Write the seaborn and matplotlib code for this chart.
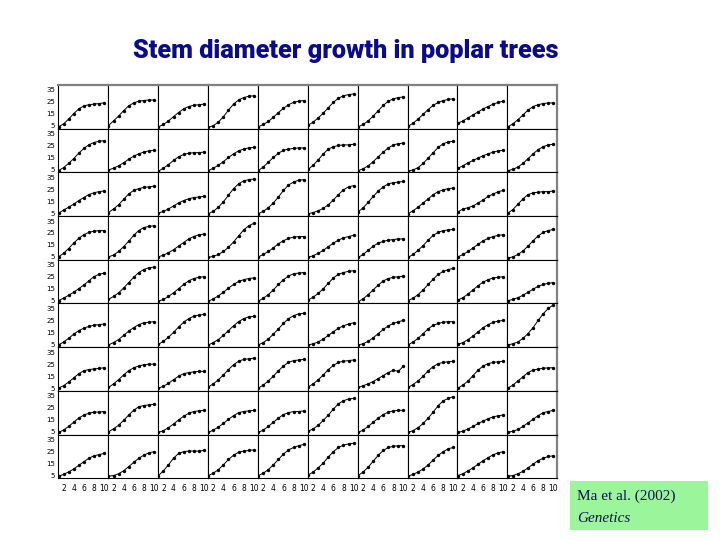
import matplotlib
matplotlib.use("Agg")
import numpy as np
import pandas as pd
import matplotlib.pyplot as plt
import seaborn as sns

# ------------------------------------------------------------
# Stem diameter (cm) at years 1..10, one list per tree,
# one block per row of the panel grid
# ------------------------------------------------------------
years = [1, 2, 3, 4, 5, 6, 7, 8, 9, 10]

row1 = [
    [4, 6.5, 10.5, 15, 19, 21.5, 22.5, 23, 23.5, 24],
    [5, 9, 13, 17.5, 21.5, 24, 25.5, 26, 26.5, 26.5],
    [4, 6, 9, 12.5, 16, 19, 21, 22, 22.5, 23],
    [3.5, 5, 8, 12.5, 18, 23, 26.5, 28.5, 29.5, 30],
    [4, 6, 8.5, 12, 16, 19.5, 22.5, 24.5, 25.5, 26],
    [5.5, 8, 11.5, 15.5, 20, 24.5, 28, 30, 31, 31.5],
    [4, 6, 9, 13, 17.5, 22, 25.5, 27.5, 28.5, 29],
    [4.5, 7, 10.5, 14.5, 18.5, 22, 24.5, 26, 27, 27.5],
    [7, 9, 11.5, 14, 16.5, 19, 21, 23, 24.5, 25.5],
    [4, 6.5, 10, 14, 18, 21, 22.5, 23.5, 24, 24],
]
row2 = [
    [4, 6.5, 10, 14, 18.5, 22.5, 25.5, 27.5, 28.5, 29],
    [4.5, 6, 8, 10.5, 13.5, 16, 18, 19.5, 20.5, 21],
    [3.5, 6, 9, 12.5, 15.5, 17.5, 18.5, 19, 19, 19.5],
    [4, 6, 8.5, 11.5, 15, 18, 20.5, 22, 23, 23.5],
    [4, 7, 11, 15, 18.5, 21, 22, 22.5, 23, 23],
    [5, 8.5, 13, 18, 22, 24, 25, 25.5, 25.5, 26],
    [4, 5.5, 8, 11.5, 15.5, 19.5, 23, 25.5, 26.5, 27],
    [3.5, 4.5, 6.5, 10, 14.5, 19, 23.5, 26.5, 28, 28.5],
    [6, 8, 10.5, 12.5, 14.5, 16.5, 18, 19.5, 20.5, 21],
    [4, 5, 7, 10, 14, 18, 21.5, 24, 25.5, 26],
]
row3 = [
    [5, 7.5, 10, 12.5, 15.5, 18, 20.5, 22, 23, 23.5],
    [5.5, 8.5, 12, 16.5, 21, 24, 25.5, 26.5, 27, 27.5],
    [5, 6.5, 8.5, 11, 13.5, 15.5, 17, 18, 18.5, 19],
    [4.5, 6.5, 10, 14.5, 20, 25.5, 29.5, 32, 33, 33.5],
    [4.5, 6.5, 9.5, 13.5, 18.5, 24, 28.5, 31, 32.5, 33],
    [4.5, 5.5, 7, 9, 12, 16, 20.5, 24.5, 27, 28],
    [6, 9.5, 14, 19, 23.5, 27, 29.5, 30.5, 31, 31.5],
    [4.5, 7, 10, 13.5, 17, 20.5, 23, 24.5, 25.5, 26],
    [6, 8.5, 9.5, 11, 13.5, 16, 19, 21, 23, 24],
    [5, 8, 12.5, 17, 20.5, 22, 22.5, 23, 23, 23.5],
]
row4 = [
    [5, 8, 12, 16.5, 20.5, 23.5, 25.5, 26.5, 27, 27],
    [5, 6.5, 9.5, 13.5, 18, 23, 27, 29.5, 30.5, 31],
    [5, 6.5, 8.5, 11, 14, 17, 20, 22, 23.5, 24],
    [4.5, 5.5, 7, 9.5, 13, 17.5, 22.5, 27.5, 31, 33],
    [5, 7, 9.5, 12.5, 16, 18.5, 20.5, 21.5, 22, 22],
    [4.5, 6, 8, 10.5, 13.5, 16.5, 19, 21, 22, 23],
    [4.5, 7, 10.5, 14, 16.5, 18, 19, 19.5, 20, 20],
    [4.5, 7, 10.5, 14.5, 19, 23, 25.5, 27, 27.5, 28],
    [5, 7, 9.5, 12.5, 15.5, 18.5, 20.5, 22, 23, 23.5],
    [4, 5, 7, 10, 14, 18.5, 22.5, 25.5, 27, 28],
]
row5 = [
    [5, 7, 9.5, 12, 15, 18, 21.5, 25, 27, 28],
    [6, 8.5, 11.5, 15.5, 20, 24.5, 28.5, 31, 32.5, 33],
    [4.5, 6, 8.5, 11.5, 15, 18.5, 21.5, 23.5, 24.5, 25],
    [4.5, 6.5, 9, 12, 15.5, 18.5, 21, 22.5, 23.5, 24],
    [4.5, 7, 10, 14, 18.5, 22.5, 25.5, 27.5, 28, 28.5],
    [5.5, 8, 11, 15, 19.5, 24, 27, 28.5, 29.5, 30],
    [4, 6.5, 10, 14, 18, 21.5, 23.5, 24.5, 25, 25.5],
    [5, 7, 10, 14, 18.5, 23, 27, 29.5, 31, 32],
    [5.5, 7.5, 10.5, 14, 17.5, 20.5, 22.5, 24, 24.5, 25],
    [5, 6, 7.5, 9.5, 12, 14.5, 17, 18.5, 19.5, 20],
]
row6 = [
    [4.5, 7, 10, 13.5, 16.5, 18.5, 20, 21, 21.5, 22],
    [4.5, 6.5, 9, 12.5, 16, 19, 21.5, 23, 23.5, 24],
    [5, 7.5, 11, 15, 19.5, 23.5, 26.5, 28.5, 29.5, 30],
    [4.5, 6.5, 9, 12.5, 16.5, 20.5, 24, 26.5, 28, 28.5],
    [4.5, 6.5, 9.5, 13.5, 18, 22.5, 26.5, 29, 30.5, 31],
    [4.5, 5.5, 7, 9.5, 12.5, 15.5, 18.5, 20.5, 22, 23],
    [4.5, 5.5, 7.5, 10.5, 14, 17.5, 20.5, 22.5, 24, 25],
    [4.5, 7, 10, 14, 18, 21, 22.5, 23.5, 24, 24],
    [5, 6.5, 9, 12, 15.5, 19, 21.5, 23.5, 24.5, 25],
    [4.5, 5.5, 7, 10, 14, 19, 25, 30.5, 35, 38],
]
row7 = [
    [5, 7, 10, 13.5, 17, 19.5, 20.5, 21, 21.5, 22],
    [5.5, 8.5, 12, 16, 19.5, 22, 23.5, 24.5, 25, 25],
    [5, 6.5, 9, 12, 15, 17, 18, 18.5, 19, 19],
    [6, 8.5, 12, 16, 20.5, 24.5, 27.5, 29, 29.5, 30],
    [5, 7.5, 11, 15, 19.5, 23.5, 26.5, 28, 28.5, 29],
    [6, 8.5, 12, 16, 20.5, 24, 26.5, 27.5, 28, 28.5],
    [5.5, 7, 8.5, 10.5, 13, 15.5, 18, 20, 19, 23.5],
    [5.5, 8, 11, 15, 19.5, 23, 25.5, 26.5, 27, 27.5],
    [5, 7.5, 11, 15.5, 20, 23.5, 25.5, 26.5, 27, 27.5],
    [5, 7.5, 11, 14.5, 18, 20, 21, 21.5, 22, 22],
]
row8 = [
    [4.5, 6.5, 9.5, 13, 16.5, 19, 20.5, 21.5, 21.5, 22],
    [5, 7.5, 10.5, 14.5, 19, 23, 26, 27, 27.5, 28],
    [4.5, 6, 8.5, 11.5, 15, 18, 20.5, 22, 22.5, 23],
    [4.5, 6.5, 9, 12, 15.5, 18.5, 21, 22, 22.5, 23],
    [4.5, 6.5, 9.5, 13, 16.5, 19.5, 21, 22, 22, 22.5],
    [5.5, 7.5, 10.5, 14.5, 19, 24, 28.5, 31, 32.5, 33],
    [4.5, 6.5, 9.5, 13, 16.5, 19.5, 21.5, 22.5, 23, 23],
    [4.5, 6, 8.5, 12, 16.5, 21.5, 27, 31, 33, 34.5],
    [4.5, 5.5, 7.5, 9.5, 12, 14, 16, 17.5, 18.5, 19],
    [4.5, 5.5, 7, 9.5, 12.5, 15.5, 18.5, 21, 22, 23],
]
row9 = [
    [4.5, 6, 8, 10.5, 13.5, 16.5, 19.5, 21.5, 22.5, 23.5],
    [4.5, 5, 6.5, 9, 12.5, 16, 19.5, 22, 24, 25],
    [5, 9, 14, 19.5, 23.5, 25, 25.5, 25.5, 25.5, 26],
    [5, 7, 10, 14, 18.5, 22, 24.5, 25.5, 26, 26.5],
    [5, 7, 10, 14, 18.5, 23, 26.5, 28.5, 30, 31],
    [5.5, 8, 11.5, 15.5, 20.5, 25, 28.5, 30.5, 31.5, 32],
    [5, 8, 12, 17, 22, 26, 28.5, 29.5, 30, 30],
    [4.5, 6, 8, 10.5, 14, 18, 22, 25, 27.5, 28.5],
    [5, 6.5, 9, 11.5, 14.5, 17.5, 20, 22.5, 24, 25],
    [4.5, 5, 6.5, 8.5, 11.5, 14.5, 17.5, 19.5, 21, 21.5],
]

rows = [row1, row2, row3, row4, row5, row6, row7, row8, row9]
x_ticks = [2, 4, 6, 8, 10]
y_ticks = [5, 15, 25, 35]

title = "Stem diameter growth in poplar trees"
cite_1 = "Ma et al. (2002)"
cite_2 = "Genetics"

# long table: one row per (tree, year)
records = []
for r, row in enumerate(rows):
    for c, tree in enumerate(row):
        for yr, d in zip(years, tree):
            records.append({"row": r, "col": c, "year": yr, "diameter": d})
df = pd.DataFrame(records)

sns.set_style("white")
plt.rcParams["font.family"] = ["DejaVu Sans"]

n_rows, n_cols = len(rows), len(rows[0])
fig, axes = plt.subplots(n_rows, n_cols, figsize=(7.2, 5.4), dpi=100,
                         sharex=True, sharey=True)
fig.subplots_adjust(left=0.0806, right=0.774, top=0.843, bottom=0.114,
                    wspace=0, hspace=0)

for (r, c), sub in df.groupby(["row", "col"]):
    ax = axes[r, c]
    sns.lineplot(data=sub, x="year", y="diameter", ax=ax, color="black",
                 linewidth=0.7, legend=False)
    sns.scatterplot(data=sub, x="year", y="diameter", ax=ax, color="black",
                    s=6, edgecolor="black", linewidth=0, legend=False)
    ax.set_xlabel("")
    ax.set_ylabel("")
    ax.set_xlim(0.9, 10.8)
    ax.set_ylim(2.6, 39.2)
    ax.set_xticks(x_ticks)
    ax.set_yticks(y_ticks)
    ax.tick_params(direction="in", length=1.5, width=0.5, labelsize=5,
                   pad=2, colors="black")
    ax.tick_params(axis="x", pad=4, labelsize=5.5)
    for sp in ax.spines.values():
        sp.set_color("black")
        sp.set_linewidth(0.8)
    if r == 0:
        ax.spines["top"].set_color("#808080")
        ax.spines["top"].set_linewidth(1.6)
    if c == n_cols - 1:
        ax.spines["right"].set_color("#808080")
        ax.spines["right"].set_linewidth(1.6)

fig.text(0.48, 0.905, title, ha="center", va="center", fontsize=18.2,
         fontweight="black", family=["Roboto", "DejaVu Sans"],
         color="#0a0a8c")

fig.patches.append(plt.Rectangle((570 / 720, 1 - 530 / 540), 138 / 720, 49 / 540,
                                 transform=fig.transFigure, facecolor="#9bf59b",
                                 edgecolor="none", zorder=0))
fig.text(577 / 720, 1 - 496 / 540, cite_1, ha="left", va="center", fontsize=11,
         family="Liberation Serif", color="#101060")
fig.text(577 / 720, 1 - 518 / 540, cite_2, ha="left", va="center", fontsize=11,
         family="Liberation Serif", style="italic", color="#101060")

fig.savefig("out.png", dpi=100)
plt.close(fig)
